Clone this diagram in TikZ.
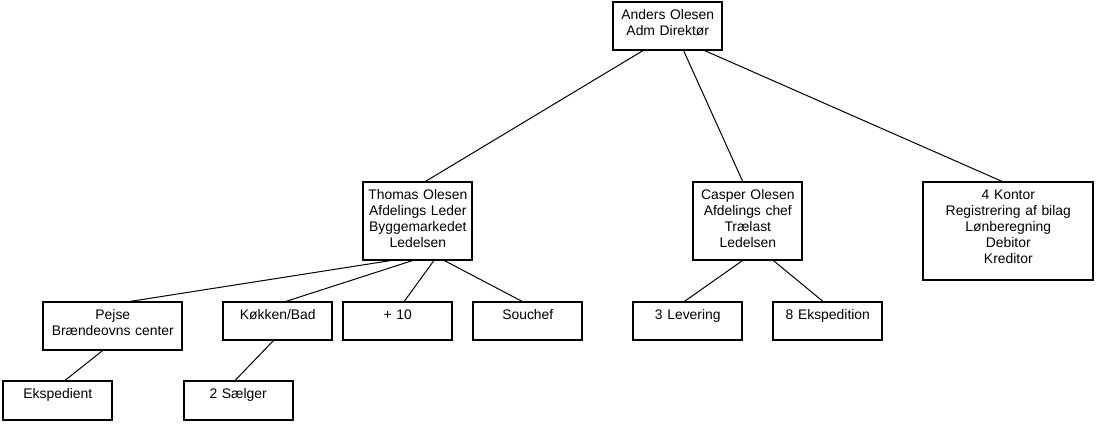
\documentclass[tikz,border=0pt]{standalone}
\usepackage{fontspec}
\setmainfont{Liberation Sans}
\usepackage{tikz}

\tikzset{
  boks/.style={draw, rectangle, line width=1.8pt, anchor=north west, outer sep=0pt, inner sep=0pt, align=center, text width=109pt, text height=17.5pt, text depth=20.8pt, font=\fontsize{13.9}{16}\selectfont},
  linje/.style={line width=1pt}
}

\begin{document}
\begin{tikzpicture}
\useasboundingbox (0,0) rectangle (1099pt,-423pt);

\node[boks, xshift=613.3pt, yshift=-1.7pt, text depth=30.8pt] (anders) {Anders Olesen\\Adm Direktør};

\node[boks, xshift=363.3pt, yshift=-181.7pt, text depth=60.8pt] (thomas) {Thomas Olesen\\Afdelings Leder\\Byggemarkedet\\Ledelsen};
\node[boks, xshift=693.3pt, yshift=-181.7pt, text depth=60.8pt] (casper) {Casper Olesen\\Afdelings chef\\Trælast\\Ledelsen};
\node[boks, xshift=923.3pt, yshift=-181.7pt, text width=170pt, text depth=80.8pt] (kontor) {4 Kontor\\Registrering af bilag\\Lønberegning\\Debitor\\Kreditor};

\node[boks, xshift=43.3pt, yshift=-301.7pt, text width=139pt, text depth=30.8pt] (pejse) {Pejse\\Brændeovns center};
\node[boks, xshift=223.3pt, yshift=-301.7pt] (kokken) {Køkken/Bad};
\node[boks, xshift=343.3pt, yshift=-301.7pt] (plusti) {+ 10};
\node[boks, xshift=473.3pt, yshift=-301.7pt] (souchef) {Souchef};
\node[boks, xshift=633.3pt, yshift=-301.7pt] (levering) {3 Levering};
\node[boks, xshift=773.3pt, yshift=-301.7pt] (ekspedition) {8 Ekspedition};

\node[boks, xshift=3.3pt, yshift=-381pt, text depth=21.5pt] (ekspedient) {Ekspedient};
\node[boks, xshift=183.7pt, yshift=-381pt, text depth=21.5pt] (saelger) {2 Sælger};

\draw[linje] ([xshift=-23.8pt]anders.south) -- ([xshift=7.2pt]thomas.north);
\draw[linje] ([xshift=15.5pt]anders.south) -- ([xshift=-5pt]casper.north);
\draw[linje] ([xshift=35.5pt]anders.south) -- ([xshift=-5.6pt]kontor.north);
\draw[linje] ([xshift=-23.5pt]thomas.south) -- ([xshift=15.5pt]pejse.north);
\draw[linje] ([xshift=-3.5pt]thomas.south) -- ([xshift=7.2pt]kokken.north);
\draw[linje] ([xshift=16.5pt]thomas.south) -- ([xshift=6.2pt]plusti.north);
\draw[linje] ([xshift=25.5pt]thomas.south) -- ([xshift=-5.1pt]souchef.north);
\draw[linje] ([xshift=-9.5pt]pejse.south) -- ([xshift=6.5pt]ekspedient.north);
\draw[linje] ([xshift=-3.8pt]kokken.south) -- ([xshift=-3.7pt]saelger.north);
\draw[linje] ([xshift=-4.5pt]casper.south) -- ([xshift=-3.8pt]levering.north);
\draw[linje] ([xshift=24.9pt]casper.south) -- ([xshift=-4.5pt]ekspedition.north);
\end{tikzpicture}
\end{document}
